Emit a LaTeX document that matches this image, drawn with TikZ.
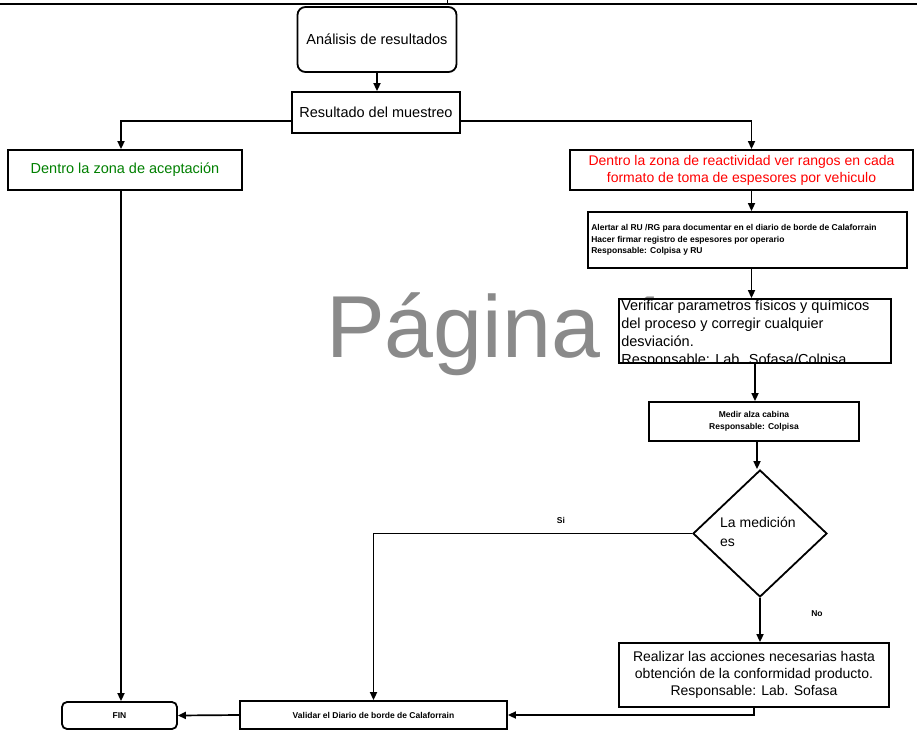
\documentclass[tikz,border=0pt]{standalone}
\usepackage{fontspec}
\setmainfont{Liberation Sans}
\usetikzlibrary{arrows.meta,shapes.geometric}
\definecolor{okgreen}{RGB}{0,128,0}
\definecolor{wmgray}{RGB}{138,138,138}
\begin{document}
\begin{tikzpicture}[x=1pt,y=-1pt,
 box/.style={draw, line width=1.8pt, fill=white, inner sep=2pt, align=center},
 arr/.style={-{Triangle[length=8pt,width=7pt]}, line width=1.7pt},
 tiny/.style={font=\fontsize{8.5}{11.5}\selectfont\bfseries},
 med/.style={font=\fontsize{14.5}{17}\selectfont},
 lbl/.style={font=\fontsize{8.5}{9}\selectfont\bfseries}]
\useasboundingbox (0,0) rectangle (917,730);
% cut-off header rule
\draw[line width=2.5pt] (0,4) -- (917,4);
\draw[line width=1pt] (447,0) -- (447,4);
% watermark
\node[anchor=base west, inner sep=0, text=wmgray, font=\fontsize{88}{92}\selectfont] (wm) at (326,357) {Página 1};
% nodes
\node[box, rounded corners=8pt, minimum width=159, minimum height=65, med] (A) at (377,39.5) {Análisis de resultados};
\node[box, minimum width=168, minimum height=41, med] (B) at (376,112.5) {Resultado del muestreo};
\node[box, minimum width=234, minimum height=40, med, text=okgreen] (C) at (125,170) {Dentro la zona de aceptación};
\node[box, minimum width=343, minimum height=40, font=\fontsize{14}{17}\selectfont, text=red] (D) at (741.5,170) {Dentro la zona de reactividad ver rangos en cada\\formato de toma de espesores por vehiculo};
\node[box, minimum width=319, minimum height=56] (E) at (747.5,240) {};
\node[tiny, anchor=west, align=left, inner sep=0] (Et) at ([xshift=4pt]E.west) {Alertar al RU /RG para documentar en el diario de borde de Calaforrain\\Hacer firmar registro de espesores por operario\\Responsable: Colpisa y RU};
\node[box, minimum width=272, minimum height=64] (F) at (755,331) {};
\begin{scope}
\clip ([shift={(0.9pt,-0.9pt)}]F.north west) rectangle ([shift={(-0.9pt,0.9pt)}]F.south east);
\node[font=\fontsize{14.5}{18}\selectfont, anchor=north west, align=left, inner sep=0] (Ft) at ([shift={(3pt,-2pt)}]F.north west) {Verificar parametros físicos y químicos\\del proceso y corregir cualquier\\desviación.\\Responsable: Lab. Sofasa/Colpisa};
\end{scope}
\node[box, minimum width=210, minimum height=39, tiny] (G) at (754,421.5) {Medir alza cabina\\Responsable: Colpisa};
\node[draw, diamond, line width=1.8pt, fill=white, minimum width=134, minimum height=127, inner sep=0] (K) at (760,533.5) {};
\node[anchor=north west, align=left, inner sep=0, font=\fontsize{14}{19}\selectfont] (Kt) at (720,517) {La medición\\es};
\node[box, minimum width=270, minimum height=64, font=\fontsize{14}{17}\selectfont] (I) at (754,675) {Realizar las acciones necesarias hasta\\obtención de la conformidad producto.\\Responsable: Lab. Sofasa};
\node[box, minimum width=267, minimum height=28, tiny] (H) at (373.5,715) {Validar el Diario de borde de Calaforrain};
\node[box, rounded corners=5pt, minimum width=115, minimum height=27, tiny] (FIN) at (119.5,715.5) {FIN};
% labels
\node[lbl] (si) at (561,520) {Si};
\node[lbl] (no) at (817,614) {No};
% connectors
\draw[arr] (A.south) -- (A.south |- B.north);
\draw[arr] ([yshift=-8.5pt]B.west) -| ([xshift=-4pt]C.north);
\draw[arr] ([yshift=-8.5pt]B.east) -| ([xshift=10pt]D.north);
\draw[arr] ([xshift=10pt]D.south) -- ([xshift=10pt]D.south |- E.north);
\draw[arr] ([xshift=4pt]E.south) -- ([xshift=4pt]E.south |- F.north);
\draw[arr] (F.south) -- (F.south |- G.north);
\draw[arr] ([xshift=3pt]G.south) -- ([xshift=3pt]G.south |- K.north);
\draw[arr] (K.south) -- (K.south |- I.north);
\draw[arr] (K.west) -| (H.north);
\draw[arr] ([xshift=-4pt]C.south) -- ([xshift=-4pt]C.south |- FIN.north);
\draw[arr] (I.south) |- (H.east);
\draw[arr] (H.west) -- (FIN.east);
\end{tikzpicture}
\end{document}
